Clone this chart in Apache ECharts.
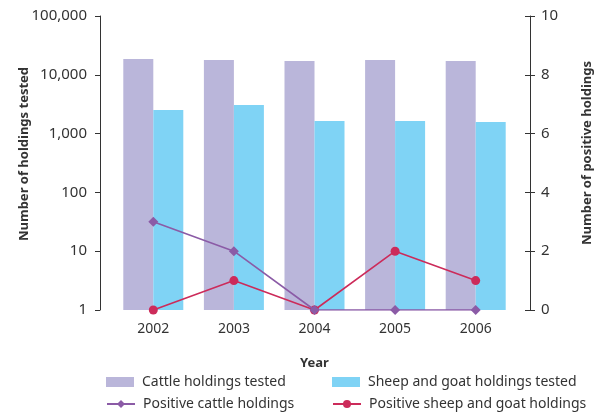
<!DOCTYPE html>
<html><head><meta charset="utf-8">
<script src="https://cdn.jsdelivr.net/npm/echarts@6/dist/echarts.min.js"></script>
<style>html,body{margin:0;padding:0;background:#fff}#chart{width:595px;height:416px}</style>
</head><body><div id="chart"></div>
<script>
// Holdings tested (log scale, left) and positive holdings (linear, right), 2002-2006
const years = ['2002', '2003', '2004', '2005', '2006'];
const cattleTested = [18600, 17800, 17200, 17800, 17200];
const sheepGoatTested = [2520, 3060, 1640, 1640, 1580];
const positiveCattle = [3, 2, 0, 0, 0];
const positiveSheepGoat = [0, 1, 0, 2, 1];
const leftTicks = [1, 10, 100, 1000, 10000, 100000];

const FONT = 'Noto Sans';
const TXT = '#333';
const COL_CATTLE = '#bab6da';
const COL_SHEEP = '#7fd3f5';
const COL_POS_CATTLE = '#8b5ba6';
const COL_POS_SHEEP = '#cc2b5a';

const chart = echarts.init(document.getElementById('chart'), null, {renderer: 'canvas'});

function legendAt(name, left, top, icon) {
  return {
    data: [{name: name, icon: icon}],
    left: left, top: top,
    itemWidth: 28, itemHeight: 10,
    textStyle: {fontFamily: FONT, fontSize: 14, color: TXT, padding: [0, 0, 0, 3]},
    padding: 0
  };
}

chart.setOption({
  animation: false,
  textStyle: {fontFamily: FONT},
  grid: {left: 113, right: 79, top: 16, bottom: 106},
  legend: [
    legendAt('Cattle holdings tested', 106, 375, 'rect'),
    legendAt('Sheep and goat holdings tested', 332, 375, 'rect'),
    legendAt('Positive cattle holdings', 106, 397, null),
    legendAt('Positive sheep and goat holdings', 332, 397, null)
  ],
  xAxis: {
    type: 'category',
    data: years,
    axisLine: {show: false},
    axisTick: {show: false},
    axisLabel: {color: TXT, fontSize: 14, fontFamily: FONT, margin: 12},
    name: 'Year',
    nameLocation: 'middle',
    nameGap: 47,
    nameTextStyle: {color: TXT, fontSize: 13, fontWeight: 'bold', fontFamily: FONT}
  },
  yAxis: [
    {
      type: 'log', logBase: 10, min: leftTicks[0], max: leftTicks[leftTicks.length - 1],
      position: 'left', offset: 13,
      axisLine: {show: true, lineStyle: {color: TXT, width: 1}},
      axisTick: {show: true, length: 5, lineStyle: {color: TXT}},
      splitLine: {show: false},
      axisLabel: {color: TXT, fontSize: 15, fontFamily: FONT, margin: 13,
        formatter: v => Number(v).toLocaleString('en-US')}
    },
    {
      type: 'value', min: 0, max: 10, interval: 2,
      position: 'right', offset: 14,
      axisLine: {show: true, lineStyle: {color: TXT, width: 1}},
      axisTick: {show: true, length: 5, lineStyle: {color: TXT}},
      splitLine: {show: false},
      axisLabel: {color: TXT, fontSize: 15, fontFamily: FONT, margin: 11}
    },
    {
      // inner half of the crossing ticks on the right axis
      type: 'value', min: 0, max: 10, interval: 2,
      position: 'right', offset: 14,
      axisLine: {show: false},
      axisTick: {show: true, inside: true, length: 5, lineStyle: {color: TXT}},
      axisLabel: {show: false},
      splitLine: {show: false}
    }
  ],
  graphic: [
    {type: 'text', x: 24, y: 154, rotation: Math.PI / 2,
      style: {text: 'Number of holdings tested', font: 'bold 13px "Noto Sans"', fill: TXT,
        align: 'center', verticalAlign: 'middle'}},
    {type: 'text', x: 587, y: 153, rotation: Math.PI / 2,
      style: {text: 'Number of positive holdings', font: 'bold 13px "Noto Sans"', fill: TXT,
        align: 'center', verticalAlign: 'middle'}}
  ],
  series: [
    {name: 'Cattle holdings tested', type: 'bar', yAxisIndex: 0, data: cattleTested,
      barWidth: 30, barGap: '0%', itemStyle: {color: COL_CATTLE}},
    {name: 'Sheep and goat holdings tested', type: 'bar', yAxisIndex: 0, data: sheepGoatTested,
      barWidth: 30, barGap: '0%', itemStyle: {color: COL_SHEEP}},
    {name: 'Positive sheep and goat holdings', type: 'line', yAxisIndex: 1, data: positiveSheepGoat,
      symbol: 'circle', symbolSize: 9, z: 3,
      lineStyle: {color: COL_POS_SHEEP, width: 1.6}, itemStyle: {color: COL_POS_SHEEP}},
    {name: 'Positive cattle holdings', type: 'line', yAxisIndex: 1, data: positiveCattle,
      symbol: 'diamond', symbolSize: 10, z: 4,
      lineStyle: {color: COL_POS_CATTLE, width: 1.6}, itemStyle: {color: COL_POS_CATTLE}}
  ]
});
</script>
</body></html>
